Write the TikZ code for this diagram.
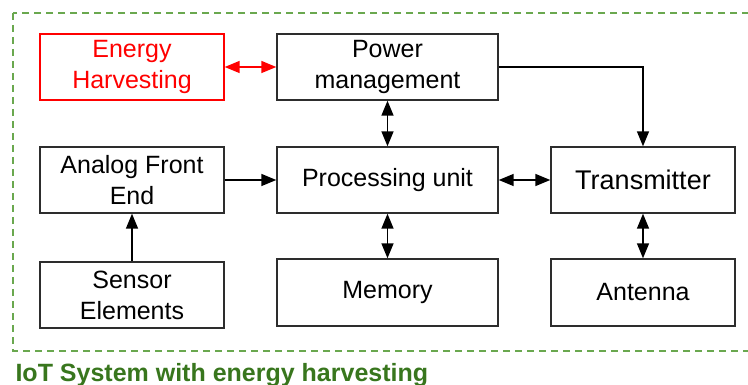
\documentclass[tikz,border=0pt]{standalone}
\usepackage{fontspec}
\setmainfont{Liberation Sans}
\usetikzlibrary{arrows.meta}
\definecolor{framegreen}{RGB}{106,168,79}
\definecolor{titlegreen}{RGB}{56,118,29}
\definecolor{boxgray}{RGB}{45,45,45}
\begin{document}
\begin{tikzpicture}[x=1pt,y=-1pt,
    block/.style={draw=boxgray,line width=1.4pt,minimum height=66pt,inner sep=0pt,
      align=center,font=\fontsize{25}{31}\selectfont},
    narrow/.style={block,minimum width=184pt},
    wide/.style={block,minimum width=221pt},
    link/.style={line width=1.5pt,-{Triangle[length=15pt,width=12pt]}},
    both/.style={link,{Triangle[length=15pt,width=12pt]}-{Triangle[length=15pt,width=12pt]}}]
  \useasboundingbox (0,0) rectangle (748,385);
  % Draw the frame
  \draw[framegreen,line width=1.4pt,dash pattern=on 7pt off 5pt] (13,13) rectangle (775,351);
  \node[anchor=base west,text=titlegreen,font=\bfseries\fontsize{25}{30}\selectfont] (title) at (12,381) {IoT System with energy harvesting};
  % blocks
  \node[narrow,draw=red,text=red] (harvest) at (132,67) {Energy\\Harvesting};
  \node[wide] (power) at (387.5,67) {Power\\management};
  \node[narrow] (afe) at (132,180) {Analog Front\\End};
  \node[wide] (proc) at (387.5,180) {Processing unit};
  \node[narrow,font=\fontsize{27}{31}\selectfont] (trans) at (643,180) {Transmitter};
  \node[narrow] (sensor) at (132,295) {Sensor\\Elements};
  \node[wide,minimum height=67pt] (memory) at (387.5,292.5) {Memory};
  \node[narrow,minimum height=67pt] (antenna) at (643,292.5) {Antenna};
  % connectors
  \draw[both,red] (harvest) -- (power);
  \draw[link] (power.east) -| (trans.north);
  \draw[both] (power) -- (proc);
  \draw[link] (afe) -- (proc);
  \draw[both] (proc) -- (trans);
  \draw[link] (sensor) -- (afe);
  \draw[both] (proc) -- (memory);
  \draw[both] (trans) -- (antenna);
\end{tikzpicture}
\end{document}
